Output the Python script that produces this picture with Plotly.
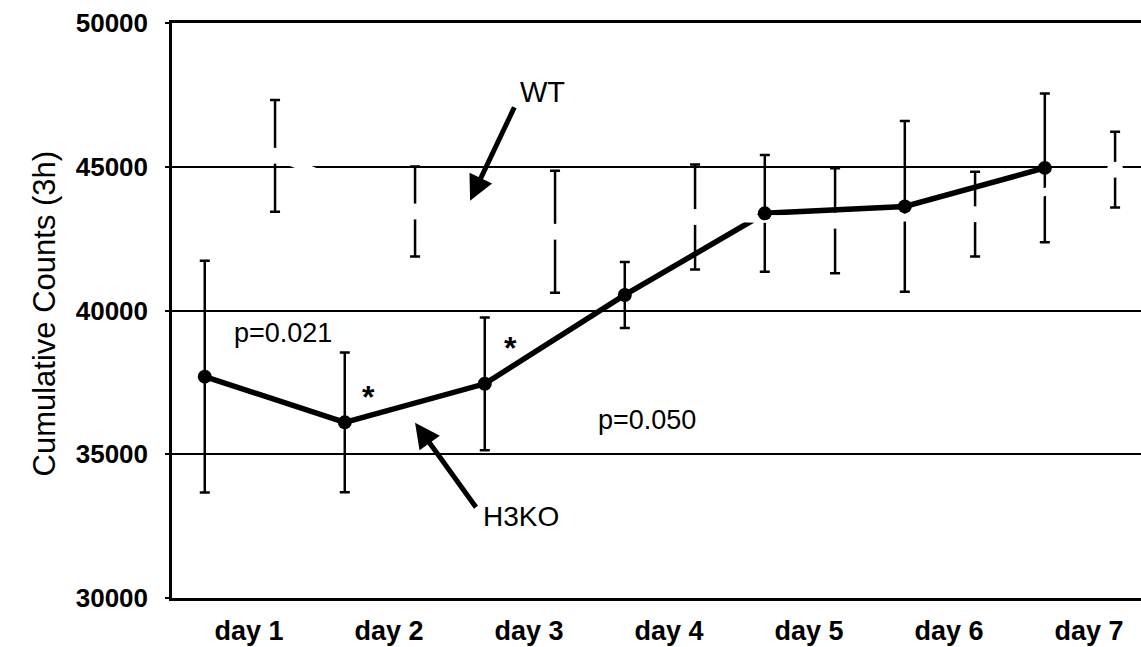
import plotly.graph_objects as go

# ---------------- data ----------------
days = ["day 1", "day 2", "day 3", "day 4", "day 5", "day 6", "day 7"]
h3ko_mean = [37700, 36110, 37450, 40540, 43380, 43620, 44960]
h3ko_err = [4030, 2430, 2310, 1150, 2030, 2970, 2590]
wt_mean = [45380, 43440, 42740, 43250, 43120, 43350, 44900]
wt_err = [1945, 1565, 2120, 1825, 1825, 1475, 1320]
y_ticks = [30000, 35000, 40000, 45000, 50000]

# ---------------- layout helpers ----------------
H3KO_OFFSET = -0.266
WT_OFFSET = 0.236
LABEL_SHIFT = 0.05
idx = list(range(len(days)))
x_h3ko = [i + H3KO_OFFSET for i in idx]
x_wt = [i + WT_OFFSET for i in idx]

FONT = "Liberation Sans, Arial, sans-serif"

fig = go.Figure()

# H3KO line with error bars
fig.add_trace(go.Scatter(
    x=x_h3ko, y=h3ko_mean, mode="lines",
    line=dict(color="black", width=5.5),
    error_y=dict(type="data", array=h3ko_err, symmetric=True,
                 color="black", thickness=2.5, width=5),
    showlegend=False, hoverinfo="skip"))

# WT error bars (black)
fig.add_trace(go.Scatter(
    x=x_wt, y=wt_mean, mode="markers",
    marker=dict(color="rgba(0,0,0,0)", size=1),
    error_y=dict(type="data", array=wt_err, symmetric=True,
                 color="black", thickness=2.5, width=5),
    showlegend=False, hoverinfo="skip"))

# WT line (white) with white markers
fig.add_trace(go.Scatter(
    x=x_wt, y=wt_mean, mode="lines+markers",
    line=dict(color="white", width=8),
    marker=dict(color="white", size=16),
    showlegend=False, hoverinfo="skip"))

# H3KO markers on top
fig.add_trace(go.Scatter(
    x=x_h3ko, y=h3ko_mean, mode="markers",
    marker=dict(color="black", size=14),
    showlegend=False, hoverinfo="skip"))

annotations = [
    # y axis title
    dict(text="Cumulative Counts (3h)", xref="paper", yref="paper",
         x=-0.132, y=0.495, xanchor="center", yanchor="middle",
         textangle=-90, showarrow=False,
         font=dict(family=FONT, size=31, color="black")),
    # WT label and arrow
    dict(text="WT", xref="x", yref="y", x=2.143, y=47609,
         xanchor="center", yanchor="middle", showarrow=False,
         font=dict(family=FONT, size=29, color="black")),
    dict(text="", xref="x", yref="y", x=1.629, y=43817,
         ax=45, ay=-95, showarrow=True, arrowhead=2, arrowsize=1.0,
         arrowwidth=5, arrowcolor="black", standoff=0),
    # H3KO label and arrow
    dict(text="H3KO", xref="x", yref="y", x=1.993, y=32826,
         xanchor="center", yanchor="middle", showarrow=False,
         font=dict(family=FONT, size=28, color="black")),
    dict(text="", xref="x", yref="y", x=1.236, y=36096,
         ax=62, ay=86, showarrow=True, arrowhead=2, arrowsize=1.0,
         arrowwidth=5, arrowcolor="black", standoff=0),
    # p-values
    dict(text="p=0.021", xref="x", yref="y", x=0.293, y=39226,
         xanchor="center", yanchor="middle", showarrow=False,
         font=dict(family=FONT, size=27, color="black")),
    dict(text="p=0.050", xref="x", yref="y", x=2.893, y=36200,
         xanchor="center", yanchor="middle", showarrow=False,
         font=dict(family=FONT, size=27, color="black")),
    # asterisks
    dict(text="*", xref="x", yref="y", x=0.9, y=37000,
         xanchor="center", yanchor="middle", showarrow=False,
         font=dict(family=FONT, size=32, color="black", weight="bold")),
    dict(text="*", xref="x", yref="y", x=1.921, y=38704,
         xanchor="center", yanchor="middle", showarrow=False,
         font=dict(family=FONT, size=32, color="black", weight="bold")),
]

fig.update_layout(
    width=1141, height=647,
    margin=dict(l=172, r=0, t=23, b=49),
    plot_bgcolor="white", paper_bgcolor="white",
    annotations=annotations,
    xaxis=dict(
        range=[-0.5, 6.421],
        tickvals=[i + LABEL_SHIFT for i in idx], ticktext=days,
        ticks="", showgrid=False, zeroline=False,
        showline=True, linecolor="black", linewidth=2.5, mirror=True,
        tickfont=dict(family=FONT, size=27, color="black", weight="bold"),
        ticklabelstandoff=7,
    ),
    yaxis=dict(
        range=[30000, 50000], tickvals=y_ticks,
        ticktext=[str(v) for v in y_ticks],
        showgrid=True, gridcolor="black", gridwidth=2,
        zeroline=False, showline=True, linecolor="black", linewidth=2.5,
        ticks="outside", ticklen=4, tickcolor="black", tickwidth=2,
        tickfont=dict(family=FONT, size=26, color="black", weight="bold"),
        ticklabelstandoff=12,
    ),
)

fig.write_html("out.html")
